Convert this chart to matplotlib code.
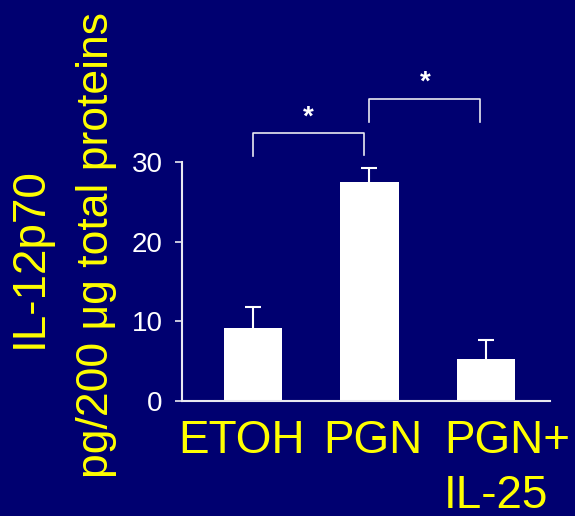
import matplotlib
matplotlib.use("Agg")
import matplotlib.pyplot as plt
import numpy as np

plt.rcParams['font.family'] = ['Liberation Sans', 'DejaVu Sans']

categories = ["ETOH", "PGN", "PGN+\nIL-25"]
values = [9.2, 27.5, 5.3]
errors = [2.6, 1.7, 2.4]
yticks = [0, 10, 20, 30]
ylabel_lines = ["IL-12p70", "pg/200 \u03bcg total proteins"]

BG = '#000070'
YEL = '#FFFF00'
AX = '#E8E8F0'

fig = plt.figure(figsize=(5.75, 5.16), dpi=100, facecolor=BG)
ax = fig.add_axes([0.3165, 0.2229, 0.64, 0.4631])
ax.set_facecolor(BG)

x = np.arange(len(categories))
ax.errorbar(x, values, yerr=errors, fmt='none', ecolor='white',
            elinewidth=1.5, capsize=5.5, capthick=1.5, zorder=2)
ax.bar(x, values, width=0.5, color='white', edgecolor='none', zorder=3)

ax.set_xlim(-0.61, 2.55)
ax.set_ylim(0, 30)
ax.set_yticks(yticks)
ax.set_xticks([])
for s in ['top', 'right']:
    ax.spines[s].set_visible(False)
for s in ['left', 'bottom']:
    ax.spines[s].set_color(AX)
    ax.spines[s].set_linewidth(1.5)
    ax.spines[s].set_zorder(4)
ax.tick_params(axis='y', colors=AX, labelcolor='white', labelsize=20,
               length=5, width=1.2, pad=9)

# x labels
offsets = [-0.1, 0.03, -0.36]
for i, lab in enumerate(categories):
    ax.text(x[i] + offsets[i], -2.3, lab, ha='center' if i < 2 else 'left',
            va='top', color=YEL, fontsize=33, linespacing=1.32,
            multialignment='left')

# y label (two lines)
fig.text(0.052, 0.50, ylabel_lines[0], rotation=90, ha='center', va='center',
         color=YEL, fontsize=33)
fig.text(0.168, 0.525, ylabel_lines[1], rotation=90, ha='center', va='center',
         color=YEL, fontsize=32)

# significance brackets
def bracket(x0, x1, ytop, ybot_l, ybot_r, ystar):
    ax.plot([x0, x0, x1, x1], [ybot_l, ytop, ytop, ybot_r], color=AX,
            lw=1.2, clip_on=False)
    ax.text((x0 + x1) / 2, ystar, '*', ha='center', va='center',
            color='white', fontsize=20, fontweight='bold', clip_on=False)

bracket(0, 0.955, 33.6, 30.7, 30.9, 35.6)
bracket(1.0, 1.95, 37.9, 35.0, 35.0, 40.0)

fig.savefig('out.png', dpi=100, facecolor=BG)
